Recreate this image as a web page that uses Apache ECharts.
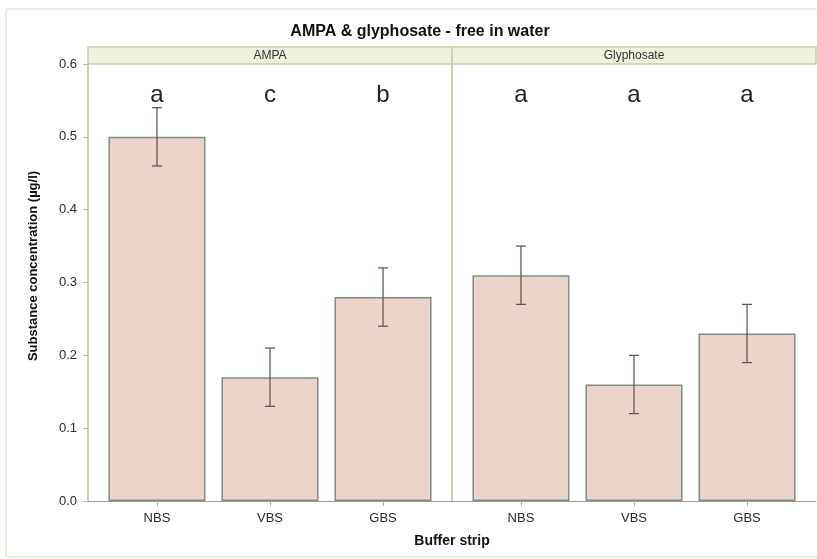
<!DOCTYPE html>
<html><head><meta charset="utf-8">
<script src="https://cdn.jsdelivr.net/npm/echarts@6/dist/echarts.min.js"></script>
<style>html,body{margin:0;padding:0;background:#fff}#c{width:817px;height:559px}</style>
</head><body><div id="c"></div>
<script>
const categories = ['NBS', 'VBS', 'GBS'];
const panels = ['AMPA', 'Glyphosate'];
const ampaMean = [0.50, 0.17, 0.28];
const ampaLow = [0.46, 0.13, 0.24];
const ampaHigh = [0.54, 0.21, 0.32];
const glyMean = [0.31, 0.16, 0.23];
const glyLow = [0.27, 0.12, 0.19];
const glyHigh = [0.35, 0.20, 0.27];
const ampaLetters = ['a', 'c', 'b'];
const glyLetters = ['a', 'a', 'a'];
const yTicks = [0.0, 0.1, 0.2, 0.3, 0.4, 0.5, 0.6];
const LETTER_Y = 0.557;

const FONT = 'Liberation Sans, Arial, sans-serif';
const chart = echarts.init(document.getElementById('c'), null, {renderer: 'canvas'});

const grids = [
  {left: 88, top: 64, width: 364, height: 437},
  {left: 452, top: 64, width: 364, height: 437}
];

function xAxis(i) {
  return {
    type: 'value', gridIndex: i, min: -0.61, max: 2.61,
    axisLine: {show: true, onZero: false, lineStyle: {color: '#9a9a9a', width: 1}},
    axisTick: {show: true, length: 5, lineStyle: {color: '#aaa'}, customValues: [0, 1, 2]},
    axisLabel: {customValues: [0, 1, 2], color: '#2a2a2a', fontSize: 13, fontFamily: FONT, margin: 11,
      formatter: v => categories[Math.round(v)] || ''},
    splitLine: {show: false}
  };
}
function yAxis(i) {
  return {
    type: 'value', gridIndex: i, min: yTicks[0], max: yTicks[yTicks.length - 1], interval: 0.1,
    axisLine: {show: true, onZero: false, lineStyle: {color: '#cdd0ad', width: 2}},
    axisTick: {show: i === 0, length: 5, lineStyle: {color: '#bbb'}},
    axisLabel: {show: i === 0, color: '#2a2a2a', fontSize: 13, fontFamily: FONT, margin: 11,
      formatter: v => v.toFixed(1)},
    splitLine: {show: false}
  };
}

function barSeries(i, means) {
  return {
    type: 'bar', xAxisIndex: i, yAxisIndex: i, barWidth: 97,
    data: means.map((m, k) => [k, m]),
    itemStyle: {color: '#ebd5ca', borderColor: '#808d86', borderWidth: 1.5},
    silent: true
  };
}
function errSeries(i, lows, highs) {
  return {
    type: 'custom', xAxisIndex: i, yAxisIndex: i, z: 5,
    data: lows.map((l, k) => [k, l, highs[k]]),
    renderItem: (params, api) => {
      const lo = api.coord([api.value(0), api.value(1)]);
      const hi = api.coord([api.value(0), api.value(2)]);
      const st = {stroke: '#5a4f4c', lineWidth: 1.2};
      return {type: 'group', children: [
        {type: 'line', shape: {x1: lo[0], y1: lo[1], x2: hi[0], y2: hi[1]}, style: st},
        {type: 'line', shape: {x1: lo[0] - 5, y1: lo[1], x2: lo[0] + 5, y2: lo[1]}, style: st},
        {type: 'line', shape: {x1: hi[0] - 5, y1: hi[1], x2: hi[0] + 5, y2: hi[1]}, style: st}
      ]};
    }
  };
}
function letterSeries(i, letters) {
  return {
    type: 'custom', xAxisIndex: i, yAxisIndex: i, z: 6,
    data: letters.map((t, k) => [k, LETTER_Y]),
    renderItem: (params, api) => {
      const p = api.coord([api.value(0), api.value(1)]);
      return {type: 'text', x: p[0], y: p[1], style: {text: letters[params.dataIndex],
        textAlign: 'center', textVerticalAlign: 'middle', fontSize: 24, fontFamily: FONT, fill: '#222'}};
    }
  };
}

const graphics = [
  {type: 'rect', shape: {x: 6, y: 9, width: 830, height: 548},
   style: {fill: 'none', stroke: '#d9dcc2', lineWidth: 1}, z: -10},
  {type: 'text', x: 420, y: 32, style: {text: 'AMPA & glyphosate - free in water', textAlign: 'center',
    textVerticalAlign: 'middle', fontSize: 16, fontWeight: 'bold', fontFamily: FONT, fill: '#111'}},
  {type: 'text', x: 452, y: 541, style: {text: 'Buffer strip', textAlign: 'center',
    textVerticalAlign: 'middle', fontSize: 14, fontWeight: 'bold', fontFamily: FONT, fill: '#111'}},
  {type: 'text', x: 33, y: 266, rotation: Math.PI / 2, style: {text: 'Substance concentration (µg/l)',
    textAlign: 'center', textVerticalAlign: 'middle', fontSize: 13, fontWeight: 'bold', fontFamily: FONT, fill: '#111'}}
];
grids.forEach((g, i) => {
  graphics.push({type: 'rect', shape: {x: g.left, y: 47, width: g.width, height: 17},
    style: {fill: '#f0f0de', stroke: '#c9cda4', lineWidth: 1.5}, z: 10});
  graphics.push({type: 'text', x: g.left + g.width / 2, y: 55.5, z: 11,
    style: {text: panels[i], textAlign: 'center', textVerticalAlign: 'middle',
      fontSize: 12, fontFamily: FONT, fill: '#333'}});
});

chart.setOption({
  animation: false,
  backgroundColor: '#fff',
  grid: grids,
  xAxis: [xAxis(0), xAxis(1)],
  yAxis: [yAxis(0), yAxis(1)],
  series: [
    barSeries(0, ampaMean), barSeries(1, glyMean),
    errSeries(0, ampaLow, ampaHigh), errSeries(1, glyLow, glyHigh),
    letterSeries(0, ampaLetters), letterSeries(1, glyLetters)
  ],
  graphic: graphics
});
</script></body></html>
